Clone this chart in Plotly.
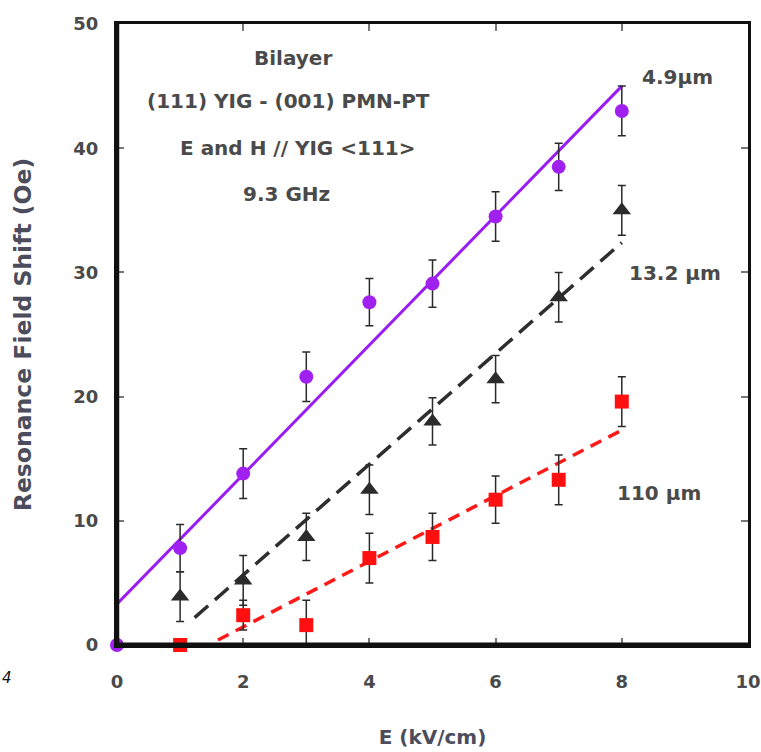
import plotly.graph_objects as go

# Electric field (kV/cm) for each measurement
e_field = [0, 1, 2, 3, 4, 5, 6, 7, 8]

# Resonance field shift (Oe) for the three YIG thicknesses
shift_4p9 = [0, 7.8, 13.8, 21.6, 27.6, 29.1, 34.5, 38.5, 43.0]
err_4p9 = [0, 1.9, 2.0, 2.0, 1.9, 1.9, 2.0, 1.9, 2.0]

e_field_13p2 = [1, 2, 3, 4, 5, 6, 7, 8]
shift_13p2 = [3.9, 5.2, 8.7, 12.5, 18.0, 21.4, 28.0, 35.0]
err_13p2 = [2.0, 2.0, 1.9, 2.0, 1.9, 1.9, 2.0, 2.0]

e_field_110 = [1, 2, 3, 4, 5, 6, 7, 8]
shift_110 = [0, 2.4, 1.6, 7.0, 8.7, 11.7, 13.3, 19.6]
err_110 = [0, 1.2, 2.0, 2.0, 1.9, 1.9, 2.0, 2.0]

# Linear fits (end points)
fit_4p9_x = [0, 8]
fit_4p9_y = [3.3, 45.0]
fit_13p2_x = [1.23, 8]
fit_13p2_y = [2.2, 32.4]
fit_110_x = [1.6, 8]
fit_110_y = [0.4, 17.3]

tick_vals_x = [0, 2, 4, 6, 8, 10]
tick_vals_y = [0, 10, 20, 30, 40, 50]

text_grey = "#4a4a4a"
title_grey = "#4b4d5c"
font_main = "DejaVu Sans, Verdana, sans-serif"

fig = go.Figure()

# Fit lines
fig.add_trace(go.Scatter(x=fit_4p9_x, y=fit_4p9_y, mode="lines",
                         line=dict(color="#9b1cf0", width=3), cliponaxis=False,
                         showlegend=False, hoverinfo="skip"))
fig.add_trace(go.Scatter(x=fit_13p2_x, y=fit_13p2_y, mode="lines",
                         line=dict(color="#2e2e2e", width=3.5, dash="18px,9px"), cliponaxis=False,
                         showlegend=False, hoverinfo="skip"))
fig.add_trace(go.Scatter(x=fit_110_x, y=fit_110_y, mode="lines",
                         line=dict(color="#ff1a1a", width=3.5, dash="12px,8px"), cliponaxis=False,
                         showlegend=False, hoverinfo="skip"))

err_style = dict(type="data", thickness=1.5, width=4, color="#2a2a2a")

# Data points with error bars
fig.add_trace(go.Scatter(x=e_field_13p2, y=shift_13p2, mode="markers",
                         marker=dict(symbol="triangle-up", size=16, color="#2b2b2b"),
                         error_y=dict(array=err_13p2, **err_style),
                         cliponaxis=False, showlegend=False))
fig.add_trace(go.Scatter(x=e_field_110, y=shift_110, mode="markers",
                         marker=dict(symbol="square", size=14, color="#ff1010"),
                         error_y=dict(array=err_110, **err_style),
                         cliponaxis=False, showlegend=False))
fig.add_trace(go.Scatter(x=e_field, y=shift_4p9, mode="markers",
                         marker=dict(symbol="circle", size=14, color="#a020f0"),
                         error_y=dict(array=err_4p9, **err_style),
                         cliponaxis=False, showlegend=False))

axis_common = dict(
    showgrid=False, zeroline=False, automargin=False,
    showline=True, linecolor="#111111", linewidth=3, mirror="ticks",
    ticks="inside", ticklen=7, tickwidth=1.5, tickcolor="#777777",
    tickfont=dict(family=font_main, size=18, color=text_grey, weight="bold"),
)

fig.update_xaxes(range=[0, 10], tickvals=tick_vals_x, ticklabelstandoff=18, **axis_common,
                 title=dict(text="E (kV/cm)", standoff=40,
                            font=dict(family=font_main, size=20, color=title_grey, weight="bold")))
fig.update_yaxes(range=[0, 50], tickvals=tick_vals_y, ticklabelstandoff=12, **axis_common,
                 title=dict(text="Resonance Field Shift (Oe)", standoff=36,
                            font=dict(family=font_main, size=23.5, color=title_grey, weight="bold")))

# Heavier left and bottom axis lines
fig.add_shape(type="line", xref="paper", yref="paper", x0=0, x1=0, y0=0, y1=1,
              line=dict(color="#111111", width=4.5))
fig.add_shape(type="line", xref="paper", yref="paper", x0=0, x1=1, y0=0, y1=0,
              line=dict(color="#111111", width=5))

annotations = [
    dict(x=2.79, y=47.3, text="Bilayer", xanchor="center"),
    dict(x=2.72, y=43.8, text="(111) YIG - (001) PMN-PT", xanchor="center"),
    dict(x=2.86, y=40.0, text="E and H // YIG &lt;111&gt;", xanchor="center"),
    dict(x=2.69, y=36.3, text="9.3 GHz", xanchor="center"),
    dict(x=8.29, y=45.7, text="4.9μm", xanchor="left"),
    dict(x=8.08, y=29.95, text="13.2 μm", xanchor="left"),
    dict(x=7.89, y=12.2, text="110 μm", xanchor="left"),
]
for a in annotations:
    fig.add_annotation(xref="x", yref="y", showarrow=False, yanchor="middle",
                       font=dict(family=font_main, size=20, color=text_grey, weight="bold"), **a)

fig.add_annotation(xref="paper", yref="paper", x=-0.185, y=-0.053, xanchor="left",
                   yanchor="middle", showarrow=False, text="<i>4</i>",
                   font=dict(family="DejaVu Sans, sans-serif", size=15, color="#111111"))

fig.update_layout(
    width=761, height=752,
    margin=dict(l=117, r=13, t=24, b=107),
    paper_bgcolor="white", plot_bgcolor="white",
    showlegend=False,
)

fig.write_html("out.html")
